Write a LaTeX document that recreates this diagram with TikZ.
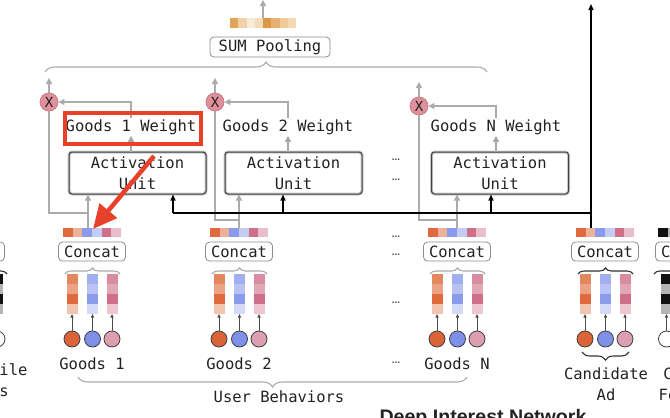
\documentclass[tikz,border=0pt]{standalone}
\usepackage{fontspec}
\setmonofont{DejaVu Sans Mono}
\setsansfont{Liberation Sans}
\usetikzlibrary{arrows.meta,positioning,calc,decorations.pathreplacing}
\definecolor{ink}{HTML}{222222}
\definecolor{wire}{HTML}{ABABAB}
\definecolor{annot}{HTML}{E8412B}
\definecolor{multfill}{HTML}{E0909B}
\definecolor{multline}{HTML}{C97A85}
% concat strip
\definecolor{co}{HTML}{E0693E}\definecolor{colt}{HTML}{EDB199}
\definecolor{cb}{HTML}{8B9BEB}\definecolor{cblt}{HTML}{C4CCF4}
\definecolor{cp}{HTML}{CF6F89}\definecolor{cplt}{HTML}{E9BDC9}
% embedding columns, top to bottom, 0 = id circle
\definecolor{o0}{HTML}{DA6437}\definecolor{o1}{HTML}{E3875F}\definecolor{o2}{HTML}{EBA384}
\definecolor{o3}{HTML}{E0693E}\definecolor{o4}{HTML}{F1C4AE}
\definecolor{b0}{HTML}{7E90E7}\definecolor{b1}{HTML}{A1AEEF}\definecolor{b2}{HTML}{B9C3F3}
\definecolor{b3}{HTML}{8B9BEB}\definecolor{b4}{HTML}{D4DAF8}
\definecolor{p0}{HTML}{DC9FB1}\definecolor{p1}{HTML}{D98C9F}\definecolor{p2}{HTML}{E2A7B6}
\definecolor{p3}{HTML}{CF6F89}\definecolor{p4}{HTML}{EDC6D0}
\definecolor{k0}{HTML}{FFFFFF}\definecolor{k1}{HTML}{111111}\definecolor{k2}{HTML}{B4B4B4}
\definecolor{k3}{HTML}{111111}\definecolor{k4}{HTML}{B4B4B4}
% pooled vector
\definecolor{pl1}{HTML}{E2A457}\definecolor{pl2}{HTML}{F1D2A9}\definecolor{pl3}{HTML}{F8EAD7}
\definecolor{pl4}{HTML}{F3DCBC}\definecolor{pl5}{HTML}{DD9746}\definecolor{pl6}{HTML}{E7B06E}
\definecolor{pl7}{HTML}{EFC99A}\definecolor{pl8}{HTML}{F3D8B3}
\tikzset{
  tag/.style={font=\ttfamily\fontsize{15.5}{21}\selectfont, text=ink, inner sep=1pt, align=center},
  tagbox/.style={tag, draw=black!45, line width=0.8pt, rounded corners=4pt},
  unit/.style={tag, draw=black!75, line width=1pt, rounded corners=3pt,
               minimum width=137pt, minimum height=42pt,
               preaction={draw=black!22, line width=3pt}},
  mult/.style={circle, fill=multfill, draw=multline, line width=0.8pt, minimum size=18pt,
               inner sep=0pt, text=ink, font=\ttfamily\fontsize{14}{14}\selectfont},
  emb/.style={circle, draw=black!75, line width=0.8pt, minimum size=16pt, inner sep=0pt},
  dots/.style={font=\sffamily\bfseries\fontsize{10}{10}\selectfont, text=ink!80, inner sep=0pt},
  garrow/.style={-{Triangle[length=6pt,width=6pt]}, line width=1.5pt, draw=wire},
  gline/.style={line width=1.5pt, draw=wire},
  barrow/.style={-{Triangle[length=6pt,width=5pt]}, line width=1.3pt, draw=black},
  bline/.style={line width=1.3pt, draw=black},
  sarrow/.style={-{Triangle[length=3.5pt,width=3pt]}, line width=0.8pt, draw=black!70},
  gbrace/.style={decorate, decoration={brace, amplitude=#1}, draw=wire, line width=1.1pt},
  gbrace/.default=6,
  bbrace/.style={gbrace=#1, draw=black!80},
  bbrace/.default=6,
  pointer/.style={-{Triangle[length=24pt,width=22pt]}, draw=annot, line width=4.5pt}
}

\begin{document}
\begin{tikzpicture}[x=1pt,y=-1pt]
  \useasboundingbox (0,0) rectangle (670,418);
  \clip (0,0) rectangle (670,418);

  % pooled output
  \foreach \c [count=\i from 0] in {pl1,pl2,pl3,pl4,pl5,pl6,pl7,pl8}
    \fill[\c] ({230+8.25*\i},18) rectangle ++(8.25,10);
  \coordinate (poolbar) at (263,18);
  \coordinate (poolout) at (263,0);
  \draw[garrow] (poolbar) -- (poolout);
  \node[tagbox, minimum width=120pt, minimum height=20pt] (pool) at (270,47) {SUM Pooling};
  \draw[gbrace=10] (45,72) -- (487,72);

  % activation units and weights
  \node[unit] (au1) at (137.5,173) {Activation\\Unit};
  \node[unit] (au2) at (293.5,173) {Activation\\Unit};
  \node[unit] (auN) at (500,173) {Activation\\Unit};
  \node[tag] (w1) at (131,127) {Goods 1 Weight};
  \node[tag] (w2) at (288,127) {Goods 2 Weight};
  \node[tag] (wN) at (496,127) {Goods N Weight};
  \foreach \g/\x/\y in {1/49/102,2/215/102,N/419/106}{
    \node[mult] (x\g) at (\x,\y) {X};
    \coordinate (x\g up) at (\x,{\y-24});
    \draw[garrow] (x\g) -- (x\g up);
    \draw[garrow] (au\g.north -| w\g) -- (w\g.south);
    \draw[garrow] (w\g.north) |- (x\g.east);
  }

  % behaviour embeddings into units and products
  \coordinate (e1) at (88,228);  \coordinate (j1) at (88,213);
  \coordinate (e2) at (239,228); \coordinate (j2) at (239,220);
  \coordinate (eN) at (457,228); \coordinate (jN) at (457,220);
  \foreach \g in {1,2,N}{
    \draw[gline] (x\g.south) |- (j\g);
    \draw[garrow] (e\g) -- (au\g.south -| e\g);
  }

  % candidate ad path
  \coordinate (cand) at (591,228);
  \coordinate (bus) at (591,213);
  \coordinate (candout) at (591,4);
  \coordinate (tap1) at (173,213);
  \coordinate (tap2) at (283,213);
  \coordinate (tapN) at (491,213);
  \draw[bline] (tap1) -- (bus);
  \foreach \g in {1,2,N}
    \draw[barrow] (tap\g) -- (au\g.south -| tap\g);
  \draw[barrow] (cand) -- (candout);

  % embedding groups
  \foreach \cx/\g/\br in {92/1/gbrace,239/2/gbrace,457/N/gbrace,605/C/bbrace}{
    \foreach \c [count=\i from 0] in {co,colt,cb,cblt,cp,cplt}
      \fill[\c] ({\cx-28.8+9.6*\i},228) rectangle ++(9.6,9);
    \node[tagbox, minimum width=67pt, minimum height=19pt] (cat\g) at (\cx,251.5) {Concat};
    \draw[\br] (\cx-27,274) -- (\cx+28,274);
    \foreach \dx/\s in {-20/o,0.5/b,20/p}{
      \foreach \k in {1,...,4}
        \fill[\s\k] ({\cx+\dx-5.5},{264+10*\k}) rectangle ++(11,10);
      \coordinate (bar\g\s) at (\cx+\dx,314);
      \node[emb, fill=\s0] (id\g\s) at (\cx+\dx,339) {};
      \draw[sarrow] (id\g\s) -- (bar\g\s);
    }
  }
  \foreach \cx/\g in {92/1,239/2,457/N}
    \node[tag] (goods\g) at (\cx,364) {Goods \g};
  \draw[gbrace=10] (467,377) -- (78,377);
  \node[tag] (behav) at (279,397) {User Behaviors};
  \draw[bbrace=8] (629,352) -- (582,352);
  \node[tag] (candlab) at (606,384.5) {Candidate\\Ad};

  % side groups, cut by the frame
  \foreach \cx/\dx/\g in {-29/26/L,689/-22.5/R}{
    \foreach \c [count=\i from 0] in {k1,k2,k1,k2,k1,k2}
      \fill[\c] ({\cx-31+9.6*\i},228) rectangle ++(9.6,9);
    \node[tagbox, minimum width=67pt, minimum height=19pt] (cat\g) at (\cx,251.5) {Concat};
    \draw[bbrace] (\cx-35,274) -- (\cx+36,274);
    \foreach \k in {1,...,4}
      \fill[k\k] ({\cx+\dx-5.5},{264+10*\k}) rectangle ++(11,10);
    \coordinate (bar\g) at (\cx+\dx,314);
    \node[emb, fill=k0] (id\g) at (\cx+\dx,339) {};
    \draw[sarrow] (id\g) -- (bar\g);
  }
  \node[tag] (profile) at (-28.5,380) {User Profile\\Features};
  \node[tag] (context) at (696,384.5) {Context\\Features};

  % ellipses between groups
  \foreach \y in {160,180,237,255,303,363}
    \node[dots] (gap\y) at (396,\y) {...};

  \node[font=\sffamily\bfseries\fontsize{19.6}{20}\selectfont, text=ink, inner sep=0pt,
        anchor=north] (title) at (483,409) {Deep Interest Network};

  % highlight
  \node[draw=annot, line width=4pt, minimum width=136pt, minimum height=31pt,
        inner sep=0pt] (hl) at (133,128.5) {};
  \coordinate (hlfrom) at (154,156);
  \coordinate (hlto) at (93,229);
  \draw[pointer] (hlfrom) -- (hlto);
\end{tikzpicture}
\end{document}
